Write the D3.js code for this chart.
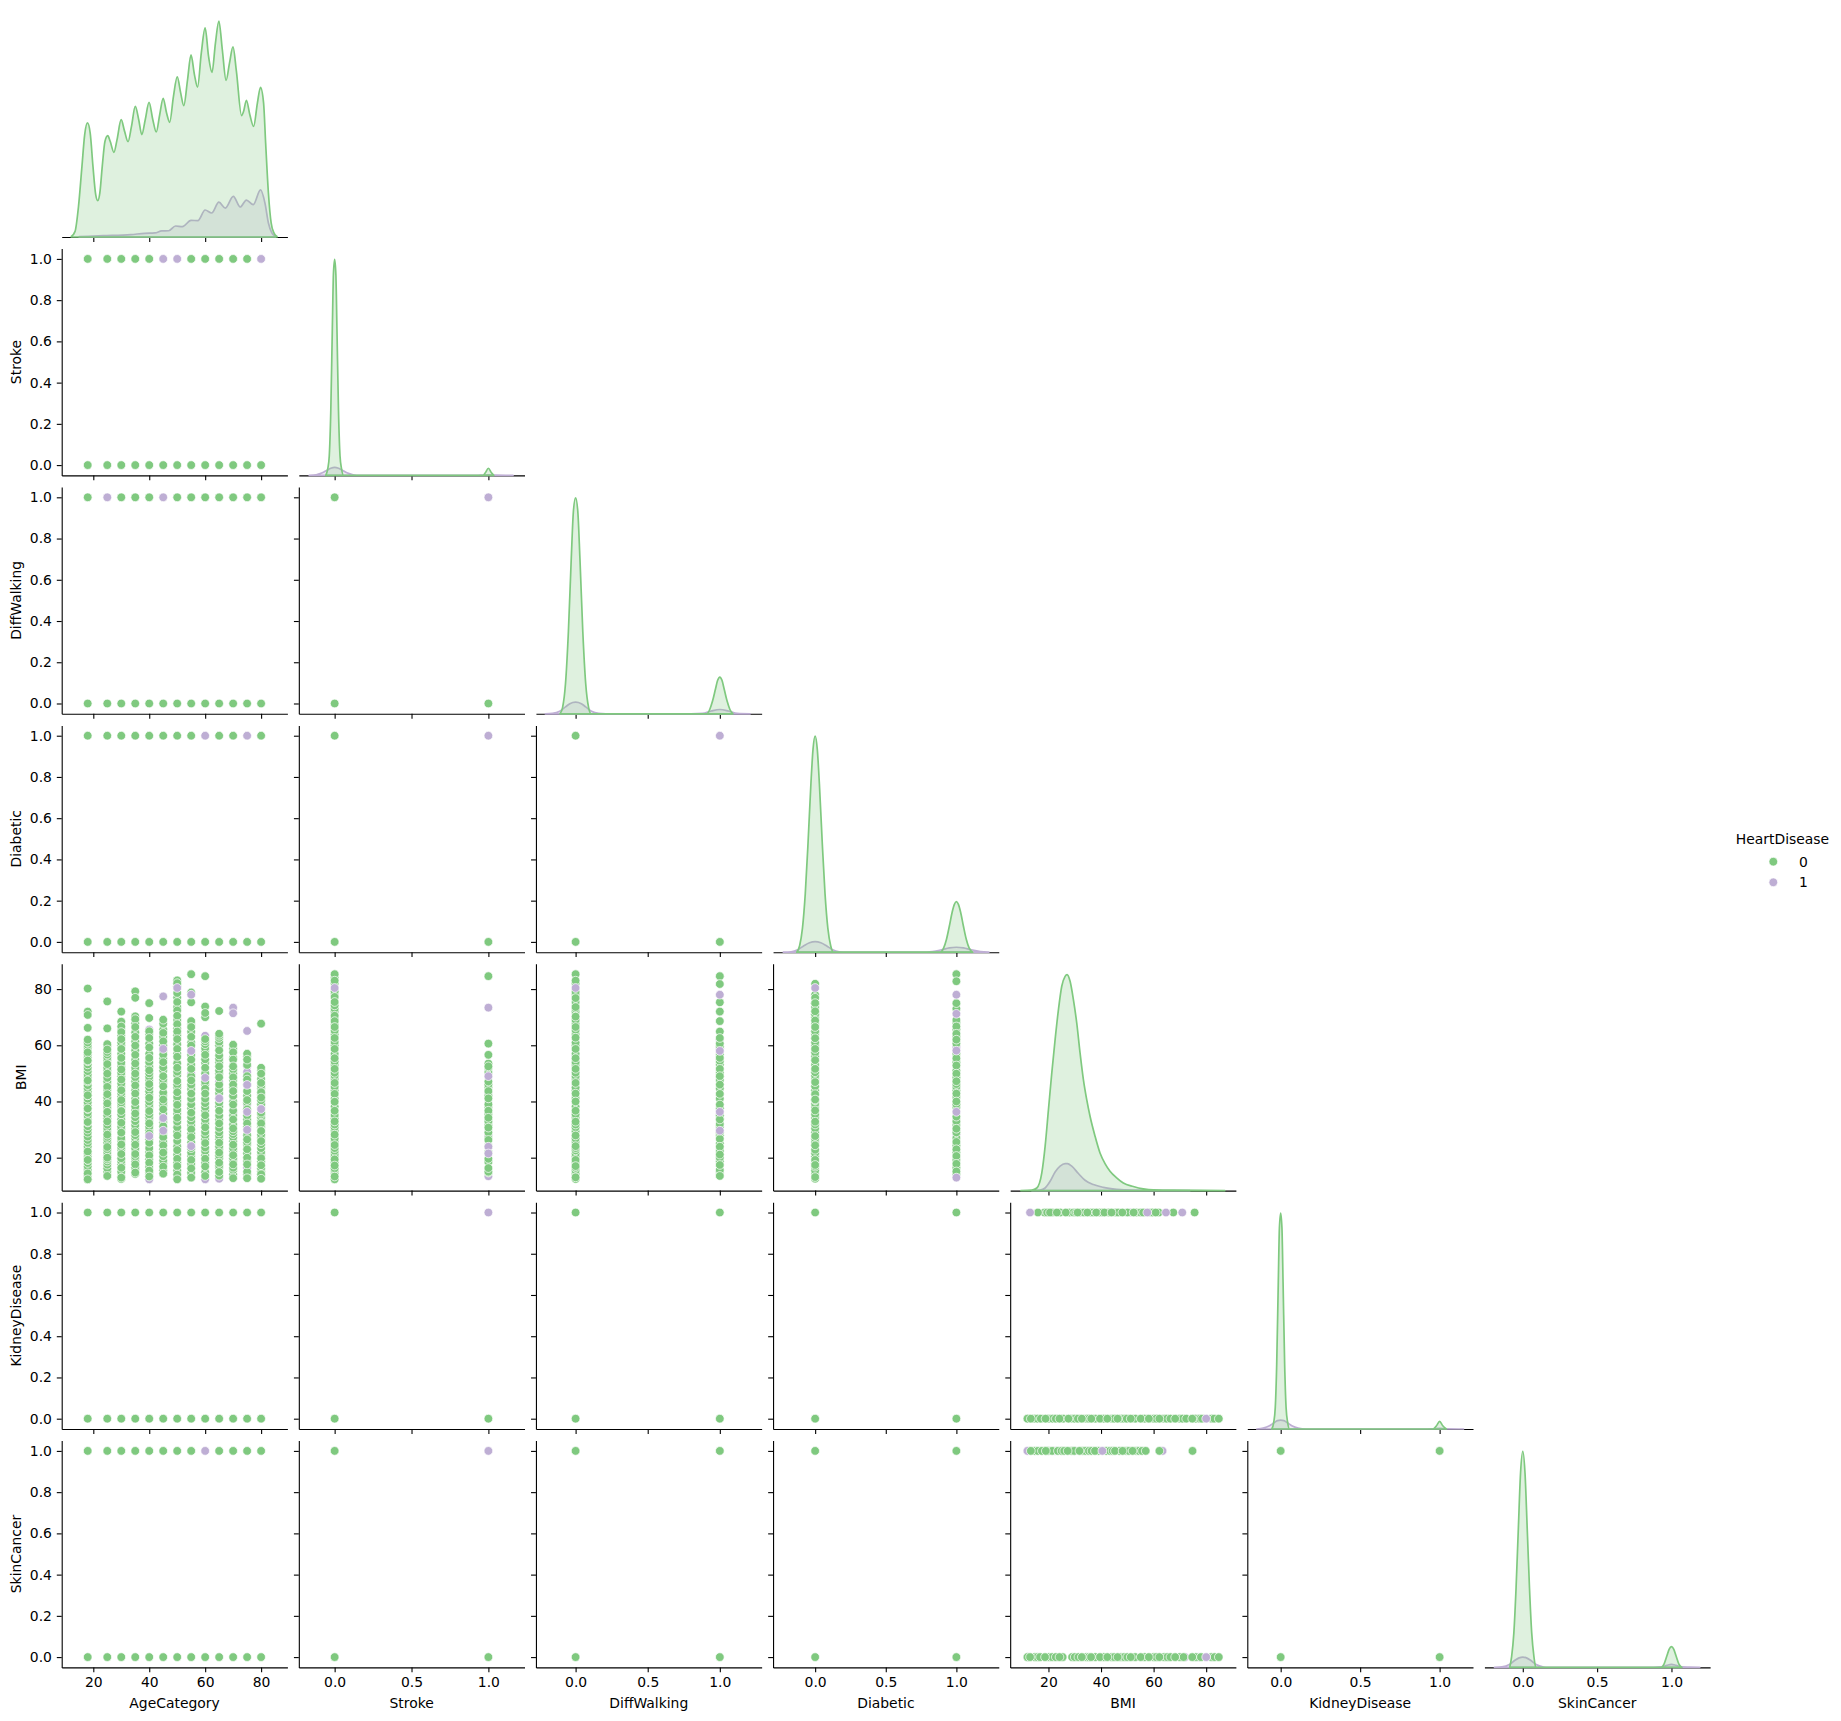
<!DOCTYPE html>
<html>
<head>
<meta charset="utf-8">
<script src="https://cdn.jsdelivr.net/npm/d3@7"></script>
<style>
  body { margin: 0; background: #fff; }
  text { font-family: "DejaVu Sans", sans-serif; font-size: 13.9px; fill: #000; }
</style>
</head>
<body>
<div id="chart"></div>
<script>
// variables, in pairplot order
const variables = ["AgeCategory", "Stroke", "DiffWalking", "Diabetic", "BMI", "KidneyDisease", "SkinCancer"];
const hueLevels = [0, 1];
const ageCategories = [18, 25, 30, 35, 40, 45, 50, 55, 60, 65, 70, 75, 80];
const binaryLevels = [0, 1];

// axis limits
const xLimits = [[8.7, 89.4], [-0.233, 1.235], [-0.275, 1.29], [-0.298, 1.30], [5.44, 91.3], [-0.21, 1.21], [-0.258, 1.26]];
const binaryLimits = [-0.05, 1.05];
const bmiLimits = [8.28, 89];

const binaryTicks = [0, 0.5, 1];
const numericTicks = [20, 40, 60, 80];
const binaryYTicks = [0, 0.2, 0.4, 0.6, 0.8, 1];

// density curves, peak of the tallest curve = 1
const ageKdeX0 = [12.13,13.48,14.71,15.94,16.92,17.91,18.89,19.88,20.86,21.6,22.34,23.2,24.18,25.17,26.03,27.38,28.49,29.96,31.19,32.42,33.65,35.01,36.24,37.34,38.57,39.93,41.28,42.51,43.74,44.97,46.2,47.31,48.66,50.01,51.24,52.35,53.7,54.93,56.16,57.27,58.62,59.98,61.21,62.44,63.67,64.9,66.13,67.48,68.71,69.94,71.17,73.01,73.75,74.74,75.97,77.32,78.67,79.78,80.89,81.62,82.61,83.59,84.58,85.68];
const ageKdeY0 = [0.002,0.026,0.142,0.327,0.474,0.528,0.481,0.327,0.196,0.168,0.204,0.327,0.443,0.469,0.443,0.392,0.451,0.543,0.489,0.441,0.512,0.605,0.543,0.474,0.543,0.623,0.543,0.486,0.566,0.642,0.574,0.531,0.651,0.741,0.667,0.608,0.728,0.843,0.752,0.694,0.852,0.968,0.836,0.762,0.898,1,0.867,0.725,0.806,0.88,0.767,0.562,0.582,0.633,0.566,0.512,0.62,0.693,0.62,0.435,0.204,0.065,0.019,0.002];
const ageKdeX1 = [14.96,23.57,33.41,38.33,42.02,44.48,46.94,49.4,51.86,54.93,57.39,59.98,62.31,64.9,67.23,70.06,72.52,74.74,77.2,79.78,81.38,82.61,83.84,85.07];
const ageKdeY1 = [0.002,0.006,0.011,0.017,0.019,0.028,0.029,0.051,0.048,0.077,0.076,0.125,0.111,0.161,0.134,0.188,0.139,0.171,0.15,0.218,0.157,0.065,0.019,0.002];

const strokeKdeX0 = [-0.058,-0.045,-0.035,-0.025,-0.015,-0.008,0,0.008,0.015,0.025,0.035,0.045,0.058,0.5,0.965,0.98,1,1.02,1.035];
const strokeKdeY0 = [0,0.03,0.09,0.3,0.68,0.93,1,0.93,0.68,0.3,0.09,0.03,0,0,0,0.012,0.033,0.012,0];
const strokeKdeX1 = [-0.165,-0.12,-0.08,-0.05,-0.025,0,0.025,0.05,0.08,0.12,0.165,0.5,0.9,0.95,1,1.05,1.16];
const strokeKdeY1 = [0,0.003,0.012,0.024,0.033,0.037,0.033,0.024,0.012,0.003,0,0,0,0.001,0.002,0.001,0];

const walkKdeX0 = [-0.108,-0.09,-0.07,-0.05,-0.03,-0.015,0,0.015,0.03,0.05,0.07,0.09,0.108,0.5,0.91,0.93,0.95,0.97,0.985,1,1.015,1.03,1.05,1.07,1.09];
const walkKdeY0 = [0,0.03,0.14,0.38,0.72,0.94,1,0.94,0.72,0.38,0.14,0.03,0,0,0,0.02,0.06,0.115,0.155,0.17,0.155,0.115,0.06,0.02,0];
const walkKdeX1 = [-0.21,-0.16,-0.11,-0.07,-0.04,0,0.04,0.07,0.11,0.16,0.21,0.8,0.88,0.94,1,1.06,1.12,1.21];
const walkKdeY1 = [0,0.002,0.012,0.032,0.047,0.054,0.047,0.032,0.012,0.002,0,0,0.002,0.013,0.02,0.013,0.002,0];

const diabeticKdeX0 = [-0.13,-0.11,-0.09,-0.07,-0.05,-0.03,-0.015,0,0.015,0.03,0.05,0.07,0.09,0.11,0.13,0.5,0.885,0.91,0.93,0.95,0.97,0.985,1,1.015,1.03,1.05,1.07,1.09,1.115];
const diabeticKdeY0 = [0,0.03,0.11,0.27,0.51,0.78,0.94,1,0.94,0.78,0.51,0.27,0.11,0.03,0,0,0,0.02,0.06,0.12,0.185,0.22,0.234,0.22,0.185,0.12,0.06,0.02,0];
const diabeticKdeX1 = [-0.225,-0.17,-0.12,-0.08,-0.04,0,0.04,0.08,0.12,0.17,0.225,0.75,0.83,0.9,0.95,1,1.05,1.1,1.17,1.23];
const diabeticKdeY1 = [0,0.002,0.013,0.03,0.044,0.049,0.044,0.03,0.013,0.002,0,0,0.003,0.012,0.02,0.023,0.02,0.012,0.003,0];

const bmiKdeX0 = [9.49,13.67,15.57,17.47,18.73,20,21.27,22.53,23.8,25.06,26.33,27.09,28.23,29.49,30.76,32.03,33.29,34.56,35.82,37.72,39.62,41.52,43.42,45.95,48.48,52.28,56.08,59.87,67.47,87.09];
const bmiKdeY0 = [0,0.002,0.012,0.082,0.205,0.375,0.545,0.699,0.838,0.946,0.992,1,0.969,0.884,0.776,0.637,0.514,0.421,0.344,0.252,0.174,0.125,0.09,0.059,0.035,0.019,0.008,0.003,0.002,0];
const bmiKdeX1 = [13.67,16.84,18.73,20.63,22.53,24.43,26.33,27.22,28.86,31.39,33.92,37.09,40.89,45.95,52.28,73.8];
const bmiKdeY1 = [0,0.002,0.012,0.043,0.086,0.113,0.125,0.125,0.113,0.079,0.048,0.028,0.015,0.006,0.002,0];

const kidneyKdeX0 = [-0.056,-0.044,-0.034,-0.025,-0.015,-0.008,0,0.008,0.015,0.025,0.034,0.044,0.056,0.5,0.958,0.98,1,1.02,1.042];
const kidneyKdeY0 = [0,0.03,0.1,0.3,0.68,0.93,1,0.93,0.68,0.3,0.1,0.03,0,0,0,0.015,0.035,0.015,0];
const kidneyKdeX1 = [-0.15,-0.11,-0.07,-0.04,-0.02,0,0.02,0.04,0.07,0.11,0.16,0.5,0.9,0.95,1,1.05,1.15];
const kidneyKdeY1 = [0,0.004,0.015,0.03,0.039,0.041,0.039,0.03,0.015,0.004,0,0,0,0.001,0.003,0.001,0];

const skinKdeX0 = [-0.088,-0.075,-0.06,-0.045,-0.03,-0.015,0,0.015,0.03,0.045,0.06,0.075,0.088,0.5,0.93,0.95,0.97,0.985,1,1.015,1.03,1.05,1.07];
const skinKdeY0 = [0,0.05,0.16,0.37,0.64,0.9,1,0.9,0.64,0.37,0.16,0.05,0,0,0,0.015,0.055,0.085,0.096,0.085,0.055,0.015,0];
const skinKdeX1 = [-0.19,-0.14,-0.09,-0.05,-0.025,0,0.025,0.05,0.09,0.14,0.17,0.88,0.93,0.97,1,1.03,1.07,1.12,1.19];
const skinKdeY1 = [0,0.002,0.013,0.034,0.044,0.048,0.044,0.034,0.013,0.002,0,0,0.002,0.01,0.014,0.01,0.002,0.001,0];

// HeartDisease value of the visible point at y = 1, one flag per age category
const ageStrokeOne = [0,0,0,0,0,1,1,0,0,0,0,0,1];
const ageWalkOne = [0,1,0,0,0,1,0,0,0,0,0,0,0];
const ageDiabeticOne = [0,0,0,0,0,0,0,0,1,0,0,1,0];
const ageKidneyOne = [0,0,0,0,0,0,0,0,0,0,0,0,0];
const ageSkinOne = [0,0,0,0,0,0,0,0,1,0,0,0,0];

// BMI by age category: purple under the green, green, purple on top
const bmiAge18Under = [14.5, 23.5];
const bmiAge18 = [12.3,13.6,14.4,15.7,16.9,18.1,19.2,20.3,21.5,22.7,24,25.2,26.3,27.5,28.9,30,31.2,32.5,33.6,34.9,36,37.3,38.6,39.7,41,42.2,43.5,44.7,45.8,47.1,48.4,49.5,50.8,52,53.2,54.3,55.6,56.7,58,59.2,60.1,61,80.2,72,70.8,66.2,62,57.5,54.6,47.5,42.2,37.5,32.7,22.2,19.2,14.4,12.3];
const bmiAge18Top = [];
const bmiAge25Under = [35];
const bmiAge25 = [13.5,15,16.2,17.5,18.6,19.4,20.8,22,23,24.6,25.4,26.5,27.4,29.5,30.6,31.7,34,35,37.4,38.4,40.5,41.5,43.8,44.4,46.3,47.2,48.4,51,52,54.5,55.6,56.7,57.6,59.5,60.4,75.6,66,58.5,53.3,49.9,45.2,42.6,39.3,36.3,32.9,28.2,23.8,20,13.5];
const bmiAge25Top = [];
const bmiAge30Under = [34.8];
const bmiAge30 = [12.4,13.4,15,17.6,18.8,19.8,22.8,23.8,26,27,30,31,33.6,35.4,37.8,38.8,39.6,41.7,43,45.2,46.4,49,50.2,52.6,53.8,57,60,61,63.4,65.8,72,68.4,66.7,64.7,62.2,58.7,55.5,51.4,47.8,44,40.5,36.6,32.4,28.9,24.7,21.3,16.4,12.9];
const bmiAge30Top = [];
const bmiAge35Under = [];
const bmiAge35 = [14.2,15.8,16.6,18.6,19.7,20.4,22.4,23.3,25.6,27,28,30.2,31.6,33,34.4,37,38.2,41,44,47.2,48.6,51,52,54.8,58.2,61.4,64.6,67.8,79.2,76.9,70.3,69.3,66.5,63,59.9,56.6,53.5,49.9,45.7,42.8,39.8,35.7,29.1,24.6,21.3,17.6,14.7];
const bmiAge35Top = [];
const bmiAge40Under = [12.3,52.5,65.6];
const bmiAge40 = [14,14.7,16.7,19.4,22,23.4,26.6,29.8,31,33.4,34.4,35.4,37.8,38.8,40,42.4,43.6,45,47.6,48.8,50,52.4,54,57,60.6,64,75,69.7,65,62.6,59.2,55.5,51.1,46.2,41.3,36.6,32.2,28.6,25.3,20.8,18.2,15.4,13.3];
const bmiAge40Top = [27.7];
const bmiAge45Under = [];
const bmiAge45 = [14.3,15.5,18,19,20.5,23,25.6,28.4,30,32.6,33.6,35.6,38.6,39.6,42,43.2,46.6,47.8,51,52.2,55.2,58,60,63,65.6,67.7,69.1,64.4,61.4,56.7,54,49,45.4,40.7,37.2,31.2,27.3,24.4,21.8,16.8,14.3];
const bmiAge45Top = [77.4,58.7,34.1,29.6];
const bmiAge50Under = [];
const bmiAge50 = [12.6,15.4,18.2,21,24,26,29.2,30.8,32.8,35.6,37,40.2,41.6,45,46,49.4,50.6,53.6,57,60.4,63.6,66,69,73.6,77,81,83.1,82.1,78.6,75.4,72.4,70.5,67.5,64.9,62.2,58.7,55.9,52,47.3,43.3,38.8,34.2,27.9,22.7,19.6,17,14,12.3];
const bmiAge50Top = [80.4];
const bmiAge55Under = [49.9,45.4,23];
const bmiAge55 = [13,14.6,17.8,20.6,21.8,25.4,28.6,31.6,33,34.4,37.6,39,41,44.4,46,49,53,56.6,61,64.8,67.6,85.3,78.8,75.3,68.6,66.5,63,59.9,54.9,51.6,47.5,42.8,36,30.1,27.3,23.4,19.2,16.2,12.9];
const bmiAge55Top = [78,58,24.1];
const bmiAge60Under = [63.4,12.3];
const bmiAge60 = [14.8,18.2,20.8,22.4,23.6,26.6,28,29.2,32.2,33.6,36.8,38,39.4,41,46,47,50,53.8,55,58,59,60.4,61.4,84.6,73.8,70,71.5,62.2,56.6,52,44.5,42.8,35.1,30.8,25.2,19.6,16.9,13.5];
const bmiAge60Top = [48.4];
const bmiAge65Under = [46.9,12.5];
const bmiAge65 = [13.6,16.4,17.2,19.8,20.8,23,24,26.6,27.8,29,30.6,33.6,35,38.2,39.6,41,43,44.4,46,50,51,54,55.2,56.4,60,61.2,62.6,63.4,72.2,64.1,58.2,52.5,48.6,36.7,32.2,25.3,21.8,18.2,14.9];
const bmiAge65Top = [41.1];
const bmiAge70Under = [41.9,36];
const bmiAge70 = [14,15.6,16.4,19,19.8,22.4,23.4,25.8,27.2,28.4,29.4,31.8,35,36.8,40,42,45,47.6,50,51.4,55.6,58.8,60.2,57.5,54.9,52.5,48.6,46,43.7,38.9,33.6,30.4,24.6,20.9,17.6,12.7];
const bmiAge70Top = [73.4,71.4];
const bmiAge75Under = [52.5,38.9,16.4,50.5];
const bmiAge75 = [14,15,18.8,21.6,24.6,25.4,28,31,33.6,35,39.6,42,46,49,53,56,57,54.9,47.8,43.7,40.5,37.2,32.2,26.5,23,20,17.6,12.7];
const bmiAge75Top = [65.1,45.9,36.3,29.9];
const bmiAge80Under = [39.3,13.3];
const bmiAge80 = [13.2,15.2,16.2,18.6,21,22,23.4,24.8,27,28.2,30.8,31.6,33.4,34.4,35.4,38,39,40.4,42.4,44.6,45.6,48,51,52,67.7,49.9,46.6,43.3,41.4,36,32.2,29.5,25.9,19.8,17.3,14.1,12.5];
const bmiAge80Top = [37.3];

// BMI strips at 0 and 1 of the binary columns
const bmiStroke0Under = [71.5,78,56.5];
const bmiStroke0 = [12.3,14.5,15.6,16.2,18.4,20.4,21.3,22.4,23.4,25.6,26.8,29.6,30.8,31.8,34,35.2,38.2,41,44,45.2,48,49.2,50.2,53,54.2,57,60,61.2,63.8,65.2,67.4,69.4,72,73,74.2,78.4,79.2,82,84,85.3,83,77.2,75.4,70.5,68.6,66.5,62.6,58.7,55.4,51.6,46.6,42.7,39.9,36.7,32.9,28.2,24.5,19.4,17.2,13.3];
const bmiStroke0Top = [80.4];
const bmiStroke1Under = [43,27.9,13.4,32];
const bmiStroke1 = [14.7,15,18.5,22,24,27,29,31.5,33,35.5,38,39,42,45,46,50.5,52,53.5,84.6,60.6,56.6,52.5,47.1,43.7,41.1,36.7,34.2,30.7,26.3,19.6,16.3];
const bmiStroke1Top = [73.4,49,23.9,21.5];
const bmiWalk0Under = [71.7,56.5];
const bmiWalk0 = [12.4,14.3,15.4,16.4,18.2,20.4,21.4,22.6,23.4,25.6,26.8,29.4,30.8,31.8,34.2,35.4,38.2,41.2,44,45,48,49,50.2,53,54,57,60,61,64,65.4,67.6,69,72,73,74,75.4,78,79,82,85.3,83,76.8,73.6,70.2,66.5,62.7,58.7,55.4,51.6,46.6,42.8,40,36.7,32.8,27.9,24.1,19.2,17,13];
const bmiWalk0Top = [80.4];
const bmiWalk1Under = [58.9,62,35];
const bmiWalk1 = [14.6,15.6,18.6,20,22.4,25,28,29,31,32,34,35,37.6,41,44.6,47.6,50.2,53.2,54.4,56.6,59.6,60.6,84.6,81.8,75.3,72,68.6,64.9,62.6,55.5,51.6,49,46,42.7,38.9,33.6,26.7,23.9,21.1,17.4,13.5];
const bmiWalk1Top = [78,58,36.3,29.6];
const bmiDiabetic0Under = [71,65];
const bmiDiabetic0 = [12.5,14.2,15.4,16.8,18,20.4,21.6,22.8,25.6,26.8,29,30.4,31.8,34.2,35.4,38,39.2,40.4,44,45.4,48,49.2,50.4,53,56,57.4,59.8,61,64,65,67.6,70,71,73.6,75,78,81.9,76.9,75,72.1,68.8,66.5,62.5,58.7,54.7,51.6,46.9,42.6,40.7,36.8,32.8,27.7,24.4,19.2,17.4,13.1];
const bmiDiabetic0Top = [80.4];
const bmiDiabetic1Under = [59.4,28.3];
const bmiDiabetic1 = [14.2,16.6,19.2,21.8,24.4,27,29,31.6,33,34.6,38,39,41.6,44,45.2,46.2,48.6,51,54,57,60.6,63,65.6,68,73,85.3,82.8,75,69,66.7,64.1,62,55.4,52.8,49.9,47.2,42.8,40,30.3,25.6,23,20.6,17.8,15.1];
const bmiDiabetic1Top = [78,71.2,58.1,36.3,12.9];

// BMI along the y = 1 and y = 0 rows of KidneyDisease and SkinCancer
const kidneyBmi1Under = [51,56.5];
const kidneyBmi1 = [18.5,19.5,21.5,24.5,28,29.5,30.5,32,33.5,36,37,39.5,40.5,43,45.5,46.5,50,53.5,55,56,58.5,59.5,62,16,20.6,23.2,26.6,31.1,34.8,38.2,41.3,44,48.1,52.4,60.8,67.5,75.6];
const kidneyBmi1Top = [13,57.6,64.7,70.9];
const kidneyBmi0Under = [12.2,77];
const kidneyBmi0 = [12,14.6,15.8,20.2,21.6,22.8,25.6,29,30,31.2,34.4,35.4,37.8,41,44.2,45,47.8,48.8,49.8,53,56.6,60,61,64,65,66.4,70,71,72.4,76,77.6,78.4,82,83,13.3,17.1,18.9,24.2,27.6,32.7,36.3,39.6,42.4,46.3,51.3,55.1,58.2,62.2,68.2,74.7,84.8];
const kidneyBmi0Top = [80];
const skinBmi1Under = [22.5,30,34.6,63.4,12];
const skinBmi1 = [14.8,16,19,20,21.4,23.6,25,26,28.8,29.8,33,34,35.4,36.4,39,42,43.4,44.4,47,49.6,50.6,53.4,54.4,55.6,57,13.3,17.5,19,27.3,31.8,37.7,45.3,48.2,52,62.2,74.8];
const skinBmi1Top = [40.5];
const skinBmi0Under = [12.2,77,72];
const skinBmi0 = [12,14.8,15.8,16.8,20.2,21.4,22.8,25.4,29,30,31.4,34.4,35.4,37.8,41,44,45,47.6,48.8,50,53,56.6,60,61,64,65.2,66.4,70,71.4,76,78,82,83.2,13,18.7,24.2,32.7,36.2,39.6,42.4,46.3,51.3,55.1,58.2,62.2,68.2,74.7,84.8];
const skinBmi0Top = [80];

// diagonal curves by column: x and y for HeartDisease 1, then for 0
const kdeCurves = [
    [ageKdeX1, ageKdeY1, ageKdeX0, ageKdeY0],
    [strokeKdeX1, strokeKdeY1, strokeKdeX0, strokeKdeY0],
    [walkKdeX1, walkKdeY1, walkKdeX0, walkKdeY0],
    [diabeticKdeX1, diabeticKdeY1, diabeticKdeX0, diabeticKdeY0],
    [bmiKdeX1, bmiKdeY1, bmiKdeX0, bmiKdeY0],
    [kidneyKdeX1, kidneyKdeY1, kidneyKdeX0, kidneyKdeY0],
    [skinKdeX1, skinKdeY1, skinKdeX0, skinKdeY0]
];

const ageStripes = [
    [bmiAge18Under, bmiAge18, bmiAge18Top], [bmiAge25Under, bmiAge25, bmiAge25Top],
    [bmiAge30Under, bmiAge30, bmiAge30Top], [bmiAge35Under, bmiAge35, bmiAge35Top],
    [bmiAge40Under, bmiAge40, bmiAge40Top], [bmiAge45Under, bmiAge45, bmiAge45Top],
    [bmiAge50Under, bmiAge50, bmiAge50Top], [bmiAge55Under, bmiAge55, bmiAge55Top],
    [bmiAge60Under, bmiAge60, bmiAge60Top], [bmiAge65Under, bmiAge65, bmiAge65Top],
    [bmiAge70Under, bmiAge70, bmiAge70Top], [bmiAge75Under, bmiAge75, bmiAge75Top],
    [bmiAge80Under, bmiAge80, bmiAge80Top]
];
const binaryStripes = {
    1: [[bmiStroke0Under, bmiStroke0, bmiStroke0Top], [bmiStroke1Under, bmiStroke1, bmiStroke1Top]],
    2: [[bmiWalk0Under, bmiWalk0, bmiWalk0Top], [bmiWalk1Under, bmiWalk1, bmiWalk1Top]],
    3: [[bmiDiabetic0Under, bmiDiabetic0, bmiDiabetic0Top], [bmiDiabetic1Under, bmiDiabetic1, bmiDiabetic1Top]]
};
const ageRowFlags = { 1: ageStrokeOne, 2: ageWalkOne, 3: ageDiabeticOne, 5: ageKidneyOne, 6: ageSkinOne };
// binary column by binary row: is the (1,1) point purple
const oneOnePurple = { "2,1": 1, "3,1": 1, "3,2": 1, "5,1": 1, "6,1": 1 };

// layout
const width = 1841, height = 1721;
const left0 = 61.7, colStep = 237.12, axisW = 225.7;
const bottom0 = 237.0, rowStep = 238.4, axisH = 226.8;
const green = "#7fc97f", purple = "#beaed4";
const hueColor = [green, purple];
const dotR = 4.35;

const svg = d3.select("#chart").append("svg")
    .attr("width", width)
    .attr("height", height)
    .style("display", "block");

function isBinary(i) { return i !== 0 && i !== 4; }

function drawDots(g, pts) {
    g.selectAll(null)
        .data(pts)
        .enter()
        .append("circle")
        .attr("cx", d => d.x)
        .attr("cy", d => d.y)
        .attr("r", dotR)
        .attr("fill", d => hueColor[d.hue])
        .attr("stroke", "#fff")
        .attr("stroke-width", 0.7);
}

function stripPoints(list, place) {
    const [under, main, top] = list;
    return [].concat(
        under.map(v => Object.assign(place(v), { hue: 1 })),
        main.map(v => Object.assign(place(v), { hue: 0 })),
        top.map(v => Object.assign(place(v), { hue: 1 }))
    );
}

function styleAxis(sel) {
    sel.selectAll("path, line").attr("stroke", "#000").attr("stroke-width", 1.1);
}

variables.forEach((rowVar, r) => {
    d3.range(r + 1).forEach(c => {
        const g = svg.append("g")
            .attr("transform", `translate(${left0 + c * colStep},${bottom0 + r * rowStep - axisH})`);

        const x = d3.scaleLinear().domain(xLimits[c]).range([0, axisW]);
        const y = d3.scaleLinear()
            .domain(r === c ? [0, 1.05] : (r === 4 ? bmiLimits : binaryLimits))
            .range([axisH, 0]);

        // x axis: every panel has ticks, labels only on the bottom row
        const xAxis = d3.axisBottom(x)
            .tickValues(isBinary(c) ? binaryTicks : numericTicks)
            .tickSize(4.9)
            .tickSizeOuter(0)
            .tickPadding(4.9)
            .tickFormat(r === variables.length - 1 ? (isBinary(c) ? d3.format(".1f") : d3.format("d")) : "");
        g.append("g").attr("transform", `translate(0,${axisH})`).call(xAxis).call(styleAxis);

        if (r === c) {
            // drawn over the spine: the closed outline runs along the baseline
            const curves = kdeCurves[c];
            [[0, purple], [2, green]].forEach(([k, color]) => {
                const xs = curves[k], ys = curves[k + 1];
                const area = d3.area()
                    .x(d => x(d))
                    .y0(y(0))
                    .y1((d, i) => y(ys[i]))
                    .curve(d3.curveMonotoneX);
                g.append("path")
                    .attr("d", area(xs) + "Z")
                    .attr("fill", color)
                    .attr("fill-opacity", 0.25)
                    .attr("stroke", color)
                    .attr("stroke-width", 1.7)
                    .attr("stroke-linejoin", "round");
            });
        } else if (r === 4) {
            // BMI on y
            const stripes = c === 0 ? ageStripes : binaryStripes[c];
            const levels = c === 0 ? ageCategories : binaryLevels;
            let pts = [];
            stripes.forEach((s, i) => {
                pts = pts.concat(stripPoints(s, v => ({ x: x(levels[i]), y: y(v) })));
            });
            drawDots(g, pts);
        } else if (c === 4) {
            // BMI on x
            const lists = r === 5
                ? [[kidneyBmi0Under, kidneyBmi0, kidneyBmi0Top], [kidneyBmi1Under, kidneyBmi1, kidneyBmi1Top]]
                : [[skinBmi0Under, skinBmi0, skinBmi0Top], [skinBmi1Under, skinBmi1, skinBmi1Top]];
            let pts = [];
            lists.forEach((s, i) => {
                pts = pts.concat(stripPoints(s, v => ({ x: x(v), y: y(binaryLevels[i]) })));
            });
            drawDots(g, pts);
        } else if (c === 0) {
            const flags = ageRowFlags[r];
            const pts = [];
            ageCategories.forEach((a, i) => {
                pts.push({ x: x(a), y: y(0), hue: 0 });
                pts.push({ x: x(a), y: y(1), hue: flags[i] });
            });
            drawDots(g, pts);
        } else {
            const pts = [];
            binaryLevels.forEach(xv => binaryLevels.forEach(yv => {
                const hue = xv === 1 && yv === 1 && oneOnePurple[r + "," + c] ? 1 : 0;
                pts.push({ x: x(xv), y: y(yv), hue: hue });
            }));
            drawDots(g, pts);
        }

        // y axis: scatter panels only, labels in the first column
        if (r !== c) {
            const yAxis = d3.axisLeft(y)
                .tickValues(r === 4 ? numericTicks : binaryYTicks)
                .tickSize(4.9)
                .tickSizeOuter(0)
                .tickPadding(4.9)
                .tickFormat(c === 0 ? (r === 4 ? d3.format("d") : d3.format(".1f")) : "");
            g.append("g").call(yAxis).call(styleAxis);
        }

        if (r === variables.length - 1) {
            g.append("text")
                .attr("x", axisW / 2)
                .attr("y", axisH + 40.2)
                .attr("text-anchor", "middle")
                .text(variables[c]);
        }
    });

    if (r > 0) {
        const cy = bottom0 + r * rowStep - axisH / 2;
        const lx = rowVar === "BMI" ? 25.8 : 21.3;
        svg.append("text")
            .attr("transform", `translate(${lx},${cy}) rotate(-90)`)
            .attr("text-anchor", "middle")
            .text(rowVar);
    }
});

// legend
const legend = svg.append("g");
legend.append("text")
    .attr("x", 1782.5)
    .attr("y", 844.3)
    .attr("text-anchor", "middle")
    .text("HeartDisease");
hueLevels.forEach((lvl, i) => {
    const ly = 861.7 + i * 20.6;
    legend.append("circle")
        .attr("cx", 1773.3)
        .attr("cy", ly)
        .attr("r", dotR)
        .attr("fill", hueColor[i])
        .attr("stroke", "#fff")
        .attr("stroke-width", 0.7);
    legend.append("text")
        .attr("x", 1798.9)
        .attr("y", ly + 5)
        .text(lvl);
});
</script>
</body>
</html>
